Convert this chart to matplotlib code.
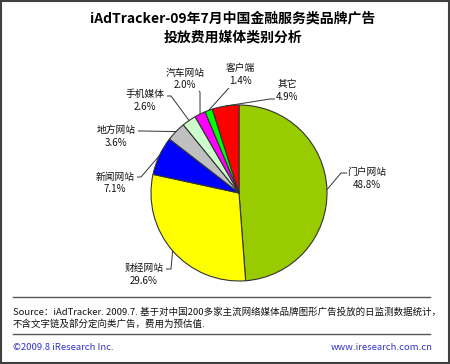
import numpy as np
import matplotlib
matplotlib.use("Agg")
import matplotlib.pyplot as plt
from matplotlib.patches import Rectangle

plt.rcParams['font.family'] = ['Noto Sans CJK SC', 'DejaVu Sans']

categories = ['门户网站', '财经网站', '新闻网站', '地方网站', '手机媒体', '汽车网站', '客户端', '其它']
shares = [48.8, 29.6, 7.1, 3.6, 2.6, 2.0, 1.4, 4.9]
colors = ['#99CC00', '#FFFF00', '#0000FF', '#C0C0C0', '#CCFFCC', '#FF00FF', '#00FF00', '#FF0000']

title_lines = ['iAdTracker-09年7月中国金融服务类品牌广告', '投放费用媒体类别分析']
source_lines = ['Source：iAdTracker. 2009.7. 基于对中国200多家主流网络媒体品牌图形广告投放的日监测数据统计，',
                '不含文字链及部分定向类广告，费用为预估值.']
footer_left = '©2009.8 iResearch Inc.'
footer_right = 'www.iresearch.com.cn'

W, H = 450, 364
fig = plt.figure(figsize=(W / 100, H / 100), dpi=100)
ax = fig.add_axes([0, 0, 1, 1])

def Y(y):
    return H - y

cx, cy, r = 239, Y(193), 88
wedges, _ = ax.pie(shares, colors=colors, startangle=90, counterclock=False,
                   center=(cx, cy), radius=r, frame=True,
                   wedgeprops=dict(edgecolor='#333333', linewidth=0.8))
ax.set_xlim(0, W)
ax.set_ylim(0, H)
ax.set_aspect('auto')
ax.axis('off')

# label placement (pixel coords, y down): text center, tick start, tick end
label_layout = [
    ((367, 172), (347, 173), (341, 173)),
    ((144, 268), (166, 269), (171, 269)),
    ((115, 177), (137, 177), (141, 177)),
    ((116, 130), (138, 131), (142, 131)),
    ((145, 94), (167, 96), (171, 96)),
    ((185, 73), (199, 91), (200, 92)),
    ((240, 68), (229, 88), (228, 89)),
    ((287, 84), (275, 99), (270, 99)),
]

for w, name, val, (tc, t0, t1) in zip(wedges, categories, shares, label_layout):
    mid = np.deg2rad((w.theta1 + w.theta2) / 2)
    ex, ey = cx + r * np.cos(mid), cy + r * np.sin(mid)
    ax.plot([t0[0], t1[0], ex], [Y(t0[1]), Y(t1[1]), ey], color='#333333', lw=0.7,
            solid_capstyle='butt')
    ax.text(tc[0], Y(tc[1]), name, ha='center', va='center', fontsize=7, color='#111111')
    ax.text(tc[0], Y(tc[1] + 12.5), f'{val:.1f}%', ha='center', va='center', fontsize=7,
            color='#111111')

ax.text(233, Y(18), title_lines[0], ha='center', va='center', fontsize=10, fontweight='bold')
ax.text(233, Y(38), title_lines[1], ha='center', va='center', fontsize=10, fontweight='bold')

ax.plot([13, 430], [Y(297), Y(297)], color='#555555', lw=1.0)
ax.plot([13, 430], [Y(334), Y(334)], color='#555555', lw=1.0)
ax.text(13, Y(312), source_lines[0], ha='left', va='center', fontsize=6.8, color='#111111')
ax.text(13, Y(324), source_lines[1], ha='left', va='center', fontsize=6.8, color='#111111')
ax.text(13, Y(347), footer_left, ha='left', va='center', fontsize=6.8, color='#3333CC')
ax.text(433, Y(347), footer_right, ha='right', va='center', fontsize=6.8, color='#3333CC')

ax.add_patch(Rectangle((1, 1), W - 2, H - 2, fill=False, edgecolor='#404040', lw=1.5))

fig.savefig('out.png', dpi=100)
